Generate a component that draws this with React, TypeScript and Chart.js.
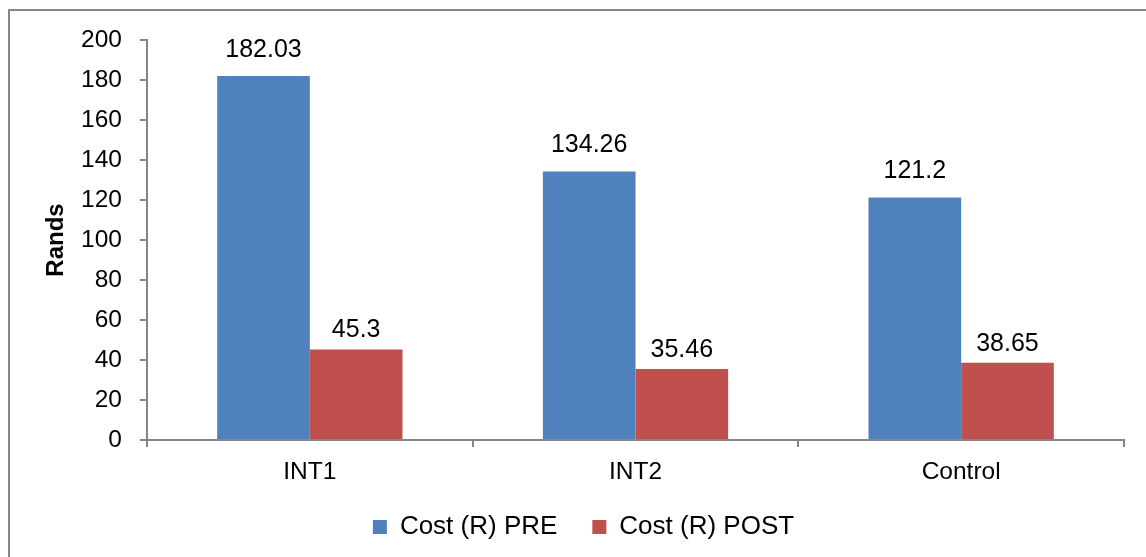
import React, { useEffect, useRef } from "react";
import { Chart, registerables } from "chart.js";

Chart.register(...registerables);

const categories = ["INT1", "INT2", "Control"];
const preValues = [182.03, 134.26, 121.2];
const postValues = [45.3, 35.46, 38.65];
const seriesNames = ["Cost (R) PRE", "Cost (R) POST"];
const yMin = 0;
const yMax = 200;
const yStep = 20;
const yTitle = "Rands";

const FONT = "Arial, 'Liberation Sans', sans-serif";
const AXIS = "#868686";
const labelOffsets = [26, 19];

const valueLabels = {
  id: "valueLabels",
  afterDatasetsDraw(chart: any) {
    const ctx = chart.ctx;
    ctx.save();
    ctx.font = `25px ${FONT}`;
    ctx.fillStyle = "#000";
    ctx.textAlign = "center";
    ctx.textBaseline = "middle";
    chart.data.datasets.forEach((ds: any, i: number) => {
      const meta = chart.getDatasetMeta(i);
      meta.data.forEach((el: any, j: number) => {
        ctx.fillText(String(ds.data[j]), el.x, el.y - labelOffsets[i]);
      });
    });
    ctx.restore();
  },
};

export default function App() {
  const ref = useRef<HTMLCanvasElement>(null);
  useEffect(() => {
    if (!ref.current) return;
    const chart = new Chart(ref.current, {
      type: "bar",
      data: {
        labels: categories,
        datasets: [
          {
            label: seriesNames[0],
            data: preValues,
            backgroundColor: "#4F81BD",
            categoryPercentage: 0.569,
            barPercentage: 1,
          },
          {
            label: seriesNames[1],
            data: postValues,
            backgroundColor: "#C0504D",
            categoryPercentage: 0.569,
            barPercentage: 1,
          },
        ],
      },
      options: {
        responsive: false,
        animation: false,
        layout: { padding: { top: 29, right: 0, left: 0, bottom: 0 } },
        plugins: {
          tooltip: { enabled: false },
          legend: {
            position: "bottom",
            labels: {
              boxWidth: 14,
              boxHeight: 14,
              padding: 35,
              color: "#000",
              font: { family: FONT, size: 26 },
            },
          },
        },
        scales: {
          x: {
            grid: {
              display: true,
              drawOnChartArea: false,
              drawTicks: true,
              tickLength: 7,
              color: AXIS,
              lineWidth: 2,
            },
            border: { display: true, color: AXIS, width: 2 },
            ticks: {
              color: "#000",
              padding: 11,
              font: { family: FONT, size: 24.5 },
            },
            afterFit: (s: any) => {
              s.height = 39;
            },
          },
          y: {
            min: yMin,
            max: yMax,
            ticks: {
              stepSize: yStep,
              color: "#000",
              padding: 18,
              font: { family: FONT, size: 24.5 },
            },
            grid: {
              display: true,
              drawOnChartArea: false,
              drawTicks: true,
              tickLength: 7,
              color: AXIS,
              lineWidth: 2,
            },
            border: { display: true, color: AXIS, width: 2 },
            title: {
              display: true,
              text: yTitle,
              color: "#000",
              font: { family: FONT, size: 24, weight: "bold" },
              padding: { top: 32, bottom: 0 },
            },
            afterFit: (s: any) => {
              s.width = 137;
              s.paddingTop = 0;
              s.paddingBottom = 0;
            },
          },
          yRight: {
            type: "linear",
            position: "right",
            display: true,
            grid: { display: false, drawTicks: false },
            border: { display: false },
            ticks: { display: false },
            afterFit: (s: any) => {
              s.width = 33;
              s.paddingTop = 0;
              s.paddingBottom = 0;
            },
          },
        },
      },
      plugins: [valueLabels],
    });
    return () => chart.destroy();
  }, []);

  return (
    <div
      style={{
        position: "fixed",
        left: 8,
        top: 8,
        width: 1138,
        height: 549,
        overflow: "hidden",
      }}
    >
      <div
        style={{
          marginTop: 1,
          borderLeft: `2px solid ${AXIS}`,
          borderTop: `2px solid ${AXIS}`,
          width: 1170,
          height: 600,
          boxSizing: "border-box",
        }}
      >
        <canvas ref={ref} width={1147} height={539} style={{ display: "block" }} />
      </div>
    </div>
  );
}
